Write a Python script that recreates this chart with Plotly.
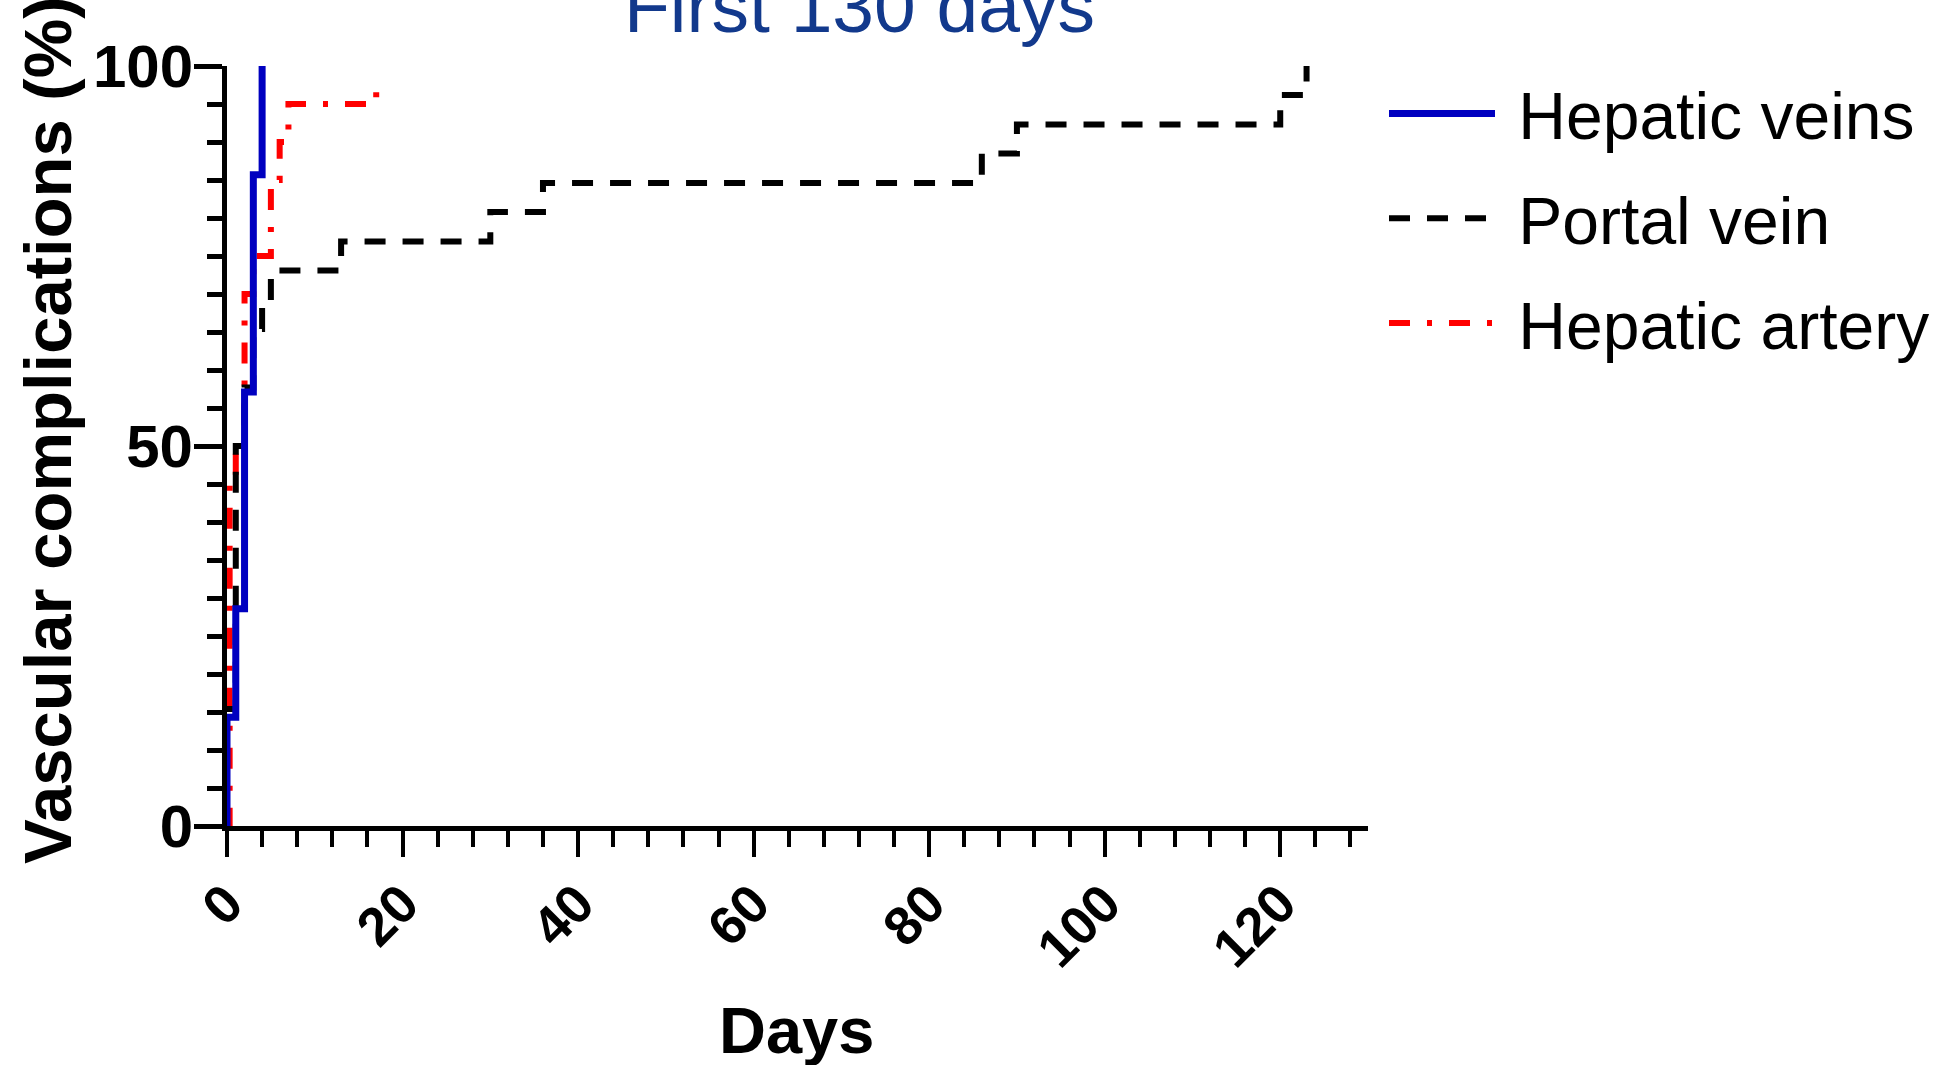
import plotly.graph_objects as go

# Data (cumulative % of vascular complications vs days)
hv_days = [0, 0, 1, 2, 3, 4]
hv_pct = [0, 14.3, 28.6, 57.1, 85.7, 100]

pv_days = [0, 0, 1, 2, 3, 4, 5, 13, 30, 36, 86, 90, 120, 123]
pv_pct = [0, 15.4, 50, 57.7, 65.4, 69.2, 73.1, 76.9, 80.8, 84.6, 88.5, 92.3, 96.2, 100]

ha_days = [0, 0.3, 1, 2, 3, 5, 6, 7, 17]
ha_pct = [0, 45, 50, 70, 75, 85, 90, 95, 97]

x_ticks = [0, 20, 40, 60, 80, 100, 120]
y_ticks = [0, 50, 100]

FONT = "Liberation Sans, Arial, sans-serif"
NB = "\u00a0"

fig = go.Figure()

fig.add_trace(go.Scatter(
    x=ha_days, y=ha_pct, mode="lines", name=NB + "Hepatic artery",
    line=dict(shape="hv", color="#ff0000", width=6, dash="21px,17px,5px,17px"),
    cliponaxis=False, legendrank=3, legendgroup="c"))
fig.add_trace(go.Scatter(
    x=pv_days, y=pv_pct, mode="lines", name=NB + "Portal vein",
    line=dict(shape="hv", color="#000000", width=6, dash="21px,17px"),
    cliponaxis=False, legendrank=2, legendgroup="b"))
fig.add_trace(go.Scatter(
    x=hv_days, y=hv_pct, mode="lines", name=NB + "Hepatic veins",
    line=dict(shape="hv", color="#0000c0", width=7),
    cliponaxis=False, legendrank=1, legendgroup="a"))

L, R, T, B = 227, 1368, 66, 826
W, H = 1934, 1065
PW, PH = R - L, B - T

fig.update_layout(
    width=W, height=H,
    margin=dict(l=L, r=W - R, t=T, b=H - B, pad=0, autoexpand=False),
    paper_bgcolor="white", plot_bgcolor="white",
    showlegend=True,
    legend=dict(
        x=1.0 + 16 / PW, xanchor="left", y=1.0 + 2 / PH, yanchor="top",
        font=dict(family=FONT, size=66, color="black"),
        tracegroupgap=16, itemwidth=106,
        bgcolor="rgba(0,0,0,0)",
    ),
    xaxis=dict(
        range=[0, 130], showgrid=False, zeroline=False,
        showline=True, linecolor="black", linewidth=5,
        tickmode="array", tickvals=x_ticks, ticktext=[str(v) for v in x_ticks],
        ticks="outside", ticklen=26, tickwidth=4, tickcolor="black",
        tickangle=-45, ticklabelstandoff=-7,
        tickfont=dict(family=FONT, size=54, color="black", weight="bold"),
        minor=dict(dtick=4, tick0=0, ticks="outside", ticklen=16, tickwidth=4, tickcolor="black"),
    ),
    yaxis=dict(
        range=[0, 100], showgrid=False, zeroline=False,
        showline=True, linecolor="black", linewidth=5,
        tickmode="array", tickvals=y_ticks, ticktext=[str(v) for v in y_ticks],
        ticks="outside", ticklen=28, tickwidth=5, tickcolor="black",
        ticklabelstandoff=-11,
        tickfont=dict(family=FONT, size=60, color="black", weight="bold"),
        minor=dict(dtick=5, tick0=0, ticks="outside", ticklen=15, tickwidth=5, tickcolor="black"),
    ),
)

fig.add_annotation(
    text="First 130 days", xref="paper", yref="paper",
    x=(859 - L) / PW, y=(B - 50) / PH, xanchor="center", yanchor="bottom",
    showarrow=False,
    font=dict(family=FONT, size=75, color="#12398c"),
)
fig.add_annotation(
    text="Vascular complications (%)", xref="paper", yref="paper",
    x=(47 - L) / PW, y=(B - 430) / PH, xanchor="center", yanchor="middle",
    textangle=-90, showarrow=False,
    font=dict(family=FONT, size=67, color="black", weight="bold"),
)
fig.add_annotation(
    text="Days", xref="paper", yref="paper",
    x=(796 - L) / PW, y=(B - 1030) / PH, xanchor="center", yanchor="middle",
    showarrow=False,
    font=dict(family=FONT, size=65, color="black", weight="bold"),
)

fig.write_html("out.html", post_script="document.body.style.margin='0px';",
               config={"displayModeBar": False})
